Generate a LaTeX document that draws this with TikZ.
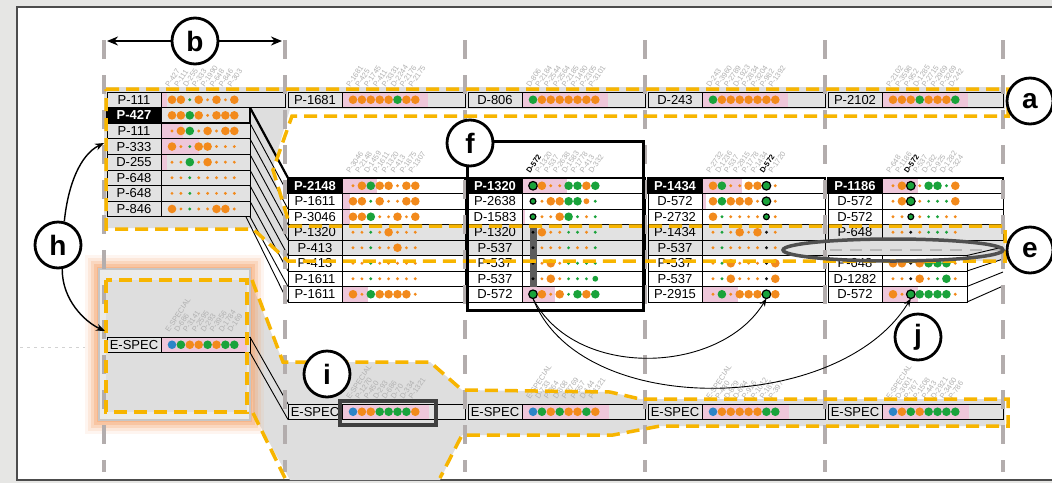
\documentclass[tikz,border=0pt]{standalone}
\usepackage{fontspec}
\setmainfont{Liberation Sans}
\usetikzlibrary{arrows.meta}
\definecolor{pagegray}{HTML}{E6E6E4}
\definecolor{regray}{HTML}{DEDEDE}
\definecolor{rowgray}{HTML}{E2E2E2}
\definecolor{pinkc}{HTML}{EEC7DA}
\definecolor{yelc}{HTML}{F7B500}
\definecolor{vgray}{HTML}{B3ADAD}
\definecolor{dco}{HTML}{F28A1C}
\definecolor{dcg}{HTML}{1AA33B}
\definecolor{dcb}{HTML}{2C85C7}
\definecolor{dck}{HTML}{111111}
\definecolor{dcr}{HTML}{1AA33B}
\definecolor{fangray}{HTML}{B0B0B0}
\definecolor{darkbox}{HTML}{3F3F3F}
\definecolor{glowc}{HTML}{F6A56E}
\definecolor{ellc}{HTML}{505050}
\newcount\rowid
\newcount\fanid
\newcommand{\prow}[9]{%
  \fill[#4] (#1+3,#2) rectangle (#1+#6,#2+15.5);
  \fill[pinkc] (#1+57,#2) rectangle (#1+57+#5,#2+15.5);
  \draw[line width=#9] (#1+3,#2) rectangle (#1+#6,#2+15.5);
  \global\advance\rowid by 1
  \node[lab,fill=#4,#7] (row\the\rowid) at (#1+30,#2+7.75) {#3};
  \foreach \dc/\dz [count=\dk from 0] in {#8} {%
    \edef\dfill{dc\dc}\edef\dd{\if r\dc black\else none\fi}\edef\rr{\ifcase\dz\or1.6\or2.9\or4.3\fi}%
    \path[fill=\dfill,draw=\dd,line width=1.2pt] (#1+68+8.9*\dk,#2+7.75) circle[radius=\rr];}%
}
\newcommand{\fan}[3]{%
  \foreach \ft [count=\fk from 0] in {#3} {\global\advance\fanid by 1\relax
    \node[fanlab] (fan\the\fanid) at (#1+65+8.9*\fk,#2-4) {\ft};}%
}
\begin{document}
\begin{tikzpicture}[x=1pt,y=-1pt,
  lab/.style={draw,line width=0.8pt,minimum width=54pt,minimum height=15.5pt,inner sep=0pt,font=\fontsize{13}{13}\selectfont},
  labb/.style={fill=black,text=white,font=\fontsize{13}{13}\selectfont\bfseries},
  fanlab/.style={rotate=56,anchor=base west,inner sep=0pt,text=fangray,font=\fontsize{7.5}{7.5}\selectfont},
  letter/.style={circle,draw,line width=2.8pt,fill=white,minimum size=46pt,inner sep=0pt,font=\fontsize{28}{28}\selectfont\bfseries},
  yd/.style={draw=yelc,line width=3.5pt,dash pattern=on 13pt off 7pt},
  vd/.style={draw=vgray,line width=3.5pt,dash pattern=on 19pt off 16pt},
  conn/.style={line width=0.9pt}]
\useasboundingbox (0,0) rectangle (1052,483);
\fill[pagegray] (0,0) rectangle (1052,483);
\fill[white] (17,7) rectangle (1052,480);
\draw[gray!60!black,line width=1.2pt] (1053,7) -- (17,7) -- (17,480) -- (1053,480);
% gray regions
\fill[regray] (104,87) -- (1005,87) -- (1005,109) -- (290,109) -- (272,170) -- (288,225) -- (1005,225) -- (1005,261) -- (288,261) -- (253,228) -- (104,228) -- cycle;
\fill[regray] (250,280) -- (283,362) -- (430,362) -- (462,390) -- (610,392) -- (640,399) -- (1005,399) -- (1005,426) -- (660,426) -- (613,435) -- (462,435) -- (440,480) -- (290,480) -- (253,413) -- cycle;
\foreach \d/\op in {12/0.1,9/0.16,6/0.25,3/0.35,0/0.45} \fill[glowc,opacity=\op] (97-\d,267-\d) rectangle (252+\d,422+\d);
\filldraw[fill=rowgray!70!white,draw=gray!45,line width=1.2pt] (99,269) rectangle (250,420);
\fill[regray] (106,280) rectangle (247,412);
\draw[gray!35,line width=1pt,dash pattern=on 3pt off 4pt] (20,347) -- (85,347);
% band a
\prow{104}{92}{P-111}{rowgray}{6}{181}{}{o/3,o/3,g/1,o/3,o/1,o/3,o/1,o/3}{0.8pt}
\prow{285}{92}{P-1681}{rowgray}{86}{180}{}{o/3,o/3,o/3,o/3,o/3,g/3,o/3,o/3}{0.8pt}
\prow{465}{92}{D-806}{rowgray}{86}{180}{}{g/3,o/3,o/3,o/3,o/3,o/3,o/3,o/3}{0.8pt}
\prow{645}{92}{D-243}{rowgray}{86}{180}{}{g/3,o/3,o/3,o/3,o/3,o/3,o/3,o/3}{0.8pt}
\prow{825}{92}{P-2102}{rowgray}{86}{178}{}{o/3,o/3,o/3,g/3,o/3,o/3,o/3,g/3}{0.8pt}
% column 1
\prow{104}{201.2}{P-846}{rowgray}{0}{146}{}{o/3,o/1,g/1,o/1,o/1,o/3,o/3,o/1}{0.8pt}
\prow{104}{185.6}{P-648}{rowgray}{0}{146}{}{o/1,o/1,g/1,o/1,o/1,o/1,o/1,o/1}{0.8pt}
\prow{104}{170}{P-648}{rowgray}{0}{146}{}{o/1,o/1,g/1,o/1,o/1,o/1,o/1,o/1}{0.8pt}
\prow{104}{154.4}{D-255}{rowgray}{6}{146}{}{o/1,o/1,g/3,o/1,o/3,o/1,o/1,o/1}{0.8pt}
\prow{104}{138.8}{P-333}{rowgray}{38}{146}{}{o/3,o/1,g/1,o/3,o/3,o/1,o/1,o/1}{0.8pt}
\prow{104}{123.2}{P-111}{rowgray}{22}{146}{}{o/1,o/3,g/3,o/1,o/3,o/1,o/3,o/3}{0.8pt}
\prow{104}{107.6}{P-427}{rowgray}{0}{146}{labb}{o/3,o/3,g/3,o/3,o/1,o/3,o/3,o/3}{1.4pt}
% column 2 group
\prow{285}{286.5}{P-1611}{white}{26}{180}{}{o/3,o/1,g/3,o/3,o/3,o/3,o/3,o/1}{0.8pt}
\prow{285}{271}{P-1611}{white}{0}{180}{}{o/1,o/1,g/1,o/1,o/1,o/1,o/1,o/1}{0.8pt}
\prow{285}{255.5}{P-413}{white}{0}{180}{}{o/1,o/1,g/1,o/1,o/1,o/1,o/1,o/1}{0.8pt}
\prow{285}{240}{P-413}{rowgray}{0}{180}{}{o/1,o/1,g/1,o/1,o/1,o/3,o/1,o/1}{0.8pt}
\prow{285}{224.5}{P-1320}{rowgray}{0}{180}{}{o/1,o/1,g/1,o/1,o/3,o/1,o/1,o/1}{0.8pt}
\prow{285}{209}{P-3046}{white}{8}{180}{}{o/3,o/3,g/3,o/1,o/1,o/3,o/1,o/3}{0.8pt}
\prow{285}{193.5}{P-1611}{white}{8}{180}{}{o/3,o/3,g/1,o/3,o/1,o/1,o/3,o/3}{0.8pt}
\prow{285}{178}{P-2148}{white}{35}{180}{labb}{o/1,o/3,g/3,o/3,o/3,o/1,o/3,o/3}{1.8pt}
% column 3 group
\prow{465}{286.5}{D-572}{white}{33}{180}{}{r/3,o/3,o/1,o/3,g/1,g/3,o/3,g/3}{0.8pt}
\prow{465}{271}{P-537}{white}{0}{180}{}{k/1,o/1,o/3,o/1,g/1,g/1,g/1,g/2}{0.8pt}
\prow{465}{255.5}{P-537}{white}{0}{180}{}{k/1,o/1,o/3,o/1,g/1,g/1,g/1,g/1}{0.8pt}
\prow{465}{240}{P-537}{rowgray}{0}{180}{}{k/1,o/1,o/1,o/1,g/1,o/1,o/1,g/1}{0.8pt}
\prow{465}{224.5}{P-1320}{rowgray}{0}{180}{}{k/1,o/3,o/1,o/1,g/1,g/1,o/1,g/1}{0.8pt}
\prow{465}{209}{D-1583}{white}{3}{180}{}{r/2,o/1,o/1,o/3,g/3,g/1,o/1,g/1}{0.8pt}
\prow{465}{193.5}{P-2638}{white}{0}{180}{}{r/2,o/1,o/3,o/3,g/3,g/3,o/2,g/1}{0.8pt}
\prow{465}{178}{P-1320}{white}{45}{180}{labb}{r/3,o/3,o/1,o/1,g/3,g/3,o/3,g/3}{1.8pt}
\fill[darkbox!85] (529.5,224.5) rectangle (536.5,286.5);
\foreach \yy in {232.25,247.75,263.25,278.75} \fill[black] (533,\yy) circle[radius=1.6];
% column 4 group
\prow{645}{286.5}{P-2915}{white}{36}{180}{}{o/1,g/3,o/1,o/3,o/3,o/3,r/3,o/3}{0.8pt}
\prow{645}{271}{P-537}{white}{0}{180}{}{o/1,g/1,o/3,o/1,o/1,o/1,k/1,o/3}{0.8pt}
\prow{645}{255.5}{P-537}{white}{0}{180}{}{o/1,g/1,o/3,o/1,o/1,o/1,k/1,o/3}{0.8pt}
\prow{645}{240}{P-537}{rowgray}{0}{180}{}{o/1,g/1,o/1,o/1,o/1,o/1,k/1,o/1}{0.8pt}
\prow{645}{224.5}{P-1434}{rowgray}{0}{180}{}{o/1,g/1,o/1,o/3,o/1,o/3,k/1,o/1}{0.8pt}
\prow{645}{209}{P-2732}{white}{0}{180}{}{o/3,g/1,o/1,o/1,o/1,o/1,r/2,o/1}{0.8pt}
\prow{645}{193.5}{D-572}{white}{4}{180}{}{o/3,g/3,o/3,o/3,o/3,o/1,r/3,o/1}{0.8pt}
\prow{645}{178}{P-1434}{white}{40}{180}{labb}{o/3,g/3,o/1,o/1,o/3,o/3,r/3,o/1}{1.8pt}
% column 5 group
\prow{825}{286.5}{D-572}{white}{36}{142}{}{o/3,o/1,r/3,g/3,g/3,g/3,g/3,o/1}{0.8pt}
\prow{825}{271}{D-1282}{white}{0}{142}{}{o/1,o/1,k/1,o/3,o/1,g/1,g/3,o/1}{0.8pt}
\prow{825}{255.5}{P-648}{white}{0}{142}{}{o/3,o/3,k/1,o/3,g/3,g/3,g/3,o/1}{0.8pt}
\prow{825}{224.5}{P-648}{rowgray}{0}{178}{}{o/1,o/1,k/1,o/1,g/1,g/1,g/1,o/1}{0.8pt}
\prow{825}{209}{D-572}{white}{0}{178}{}{o/1,o/1,r/2,o/1,g/1,g/1,o/1,o/1}{0.8pt}
\prow{825}{193.5}{D-572}{white}{0}{178}{}{o/1,o/3,r/3,o/1,g/1,g/1,g/1,o/3}{0.8pt}
\prow{825}{178}{P-1186}{white}{36}{178}{labb}{o/1,o/3,r/3,o/1,g/3,g/3,g/1,o/3}{1.8pt}
\draw[gray!55,line width=2pt,dash pattern=on 12pt off 8pt] (830,250) -- (1000,250);
% E-SPEC rows
\prow{104}{337}{E-SPEC}{rowgray}{86}{146}{}{b/3,g/3,o/3,o/3,g/3,o/3,g/3,g/3}{0.8pt}
\prow{285}{404}{E-SPEC}{rowgray}{87}{180}{}{b/3,o/3,o/3,g/3,g/3,g/3,g/3,o/3}{0.8pt}
\prow{465}{404}{E-SPEC}{rowgray}{87}{180}{}{b/3,g/3,o/3,g/3,o/3,o/3,g/3,o/3}{0.8pt}
\prow{645}{404}{E-SPEC}{rowgray}{87}{180}{}{b/3,o/3,o/3,o/3,o/3,o/3,g/3,g/3}{0.8pt}
\prow{825}{404}{E-SPEC}{rowgray}{87}{178}{}{b/3,o/3,g/3,o/3,g/3,g/3,g/3,g/3}{0.8pt}
% fans
\fan{104}{92}{P-427,P-111,D-255,P-333,P-1990,P-648,P-846,P-303}
\fan{285}{92}{P-1681,P-425,P-1745,P-411,P-3331,D-2244,P-2176,P-2175}
\fan{465}{92}{D-806,P-2184,P-2544,P-2564,P-2185,P-1490,P-2305,P-3101}
\fan{645}{92}{D-243,P-3960,P-2789,D-1923,P-2834,P-3204,P-982,P-1392}
\fan{825}{92}{P-2102,P-3598,P-952,D-1285,P-2715,P-2969,P-3269,D-242}
\fan{285}{178}{P-3046,P-2148,D-1459,P-1611,P-1320,P-413,P-1875,P-1307}
\fan{465}{178}{{\color{black}\bfseries D-572},P-1320,P-537,P-2638,D-1583,P-1778,P-413,D-332}
\fan{645}{178}{P-2732,D-1236,P-537,P-2915,P-1778,P-1434,{\color{black}\bfseries D-572},P-1720}
\fan{825}{178}{P-648,P-1186,{\color{black}\bfseries D-572},P-537,D-282,D-925,D-1282,P-324}
\fan{104}{337}{E-SPECIAL,D-686,P-3141,P-2595,D-293,P-3956,D-1784,D-169}
\fan{285}{404}{E-SPECIAL,P-1270,P-450,D-293,D-686,D-70,D-334,P-1321}
\fan{465}{404}{E-SPECIAL,D-733,P-264,D-808,P-2769,P-557,D-144,P-1321}
\fan{645}{404}{E-SPECIAL,P-430,D-829,D-684,P-916,P-1012,P-187,P-397}
\fan{825}{404}{E-SPECIAL,D-3001,P-767,P-1508,P-443,D-2921,P-3460,P-786}
% connectors column 1 -> column 2
\foreach \k in {0,...,7} {\coordinate (ca\k) at (250,107.6+15.6*\k); \coordinate (cb\k) at (288,178+15.5*\k); \draw[conn] (ca\k) -- (cb\k);}
\coordinate (ca8) at (246,216.8); \coordinate (cb8) at (288,302);
\draw[conn] (ca8) -- (cb8);
\draw[line width=2.2pt] (ca0) -- (cb0);
\coordinate (ea1) at (250,337); \coordinate (ea2) at (250,352.5);
\coordinate (eb1) at (288,404); \coordinate (eb2) at (288,419.5);
\draw[conn] (ea1) -- (eb1); \draw[conn] (ea2) -- (eb2);
\foreach \k/\ya/\yb in {0/255.5/247,1/271/259,2/286.5/272,3/302/286} {\coordinate (xa\k) at (967,\ya); \coordinate (xb\k) at (1003,\yb); \draw[conn] (xa\k) -- (xb\k);}
% vertical dashed guides
\foreach \vx in {104,285,465,645,825,1003} \draw[vd] (\vx,40) -- (\vx,472);
% yellow outlines
\draw[yd] (106,89) -- (1008,89) -- (1008,116) -- (292,116) -- (273,170) -- (290,226) -- (1005,226) -- (1005,261) -- (288,261) -- (253,229) -- (106,229) -- cycle;
\draw[yd] (106,280) rectangle (247,412);
\draw[yd] (252,280) -- (283,362) -- (430,362) -- (462,390) -- (610,392) -- (640,399) -- (1008,399) -- (1008,426) -- (660,426) -- (613,435) -- (462,435) -- (440,478);
\draw[yd] (253,413) -- (285,478);
% highlights
\draw[line width=3pt] (467,141) rectangle (643,310);
\draw[darkbox,line width=3.5pt] (340,401) rectangle (436,425);
\draw[ellc,line width=3.5pt] (893,250) ellipse[x radius=110,y radius=11];
% curved arrows
\coordinate (s3) at (533,298.5);
\coordinate (t4) at (766.4,298.5);
\coordinate (t5) at (910.8,298.5);
\draw[line width=0.9pt,-{Stealth[length=8pt,width=6pt]}] (s3) .. controls (575,380) and (720,375) .. (t4);
\draw[line width=0.9pt,-{Stealth[length=8pt,width=6pt]}] (s3) .. controls (580,420) and (840,415) .. (t5);
% letters
\node[letter] (a) at (1030,101) {a};
\node[letter] (b) at (195,41) {b};
\node[letter] (e) at (1030,250) {e};
\node[letter] (f) at (470,143) {f};
\node[letter] (h) at (58,245) {h};
\node[letter] (i) at (327,374) {i};
\node[letter] (j) at (918,337) {j};
\coordinate (bl) at (107,41); \coordinate (br) at (282,41);
\draw[line width=2pt,-{Stealth[length=11pt,width=9pt]}] (b) -- (bl);
\draw[line width=2pt,-{Stealth[length=11pt,width=9pt]}] (b) -- (br);
\coordinate (hA) at (104,143); \coordinate (hB) at (105,331);
\draw[line width=1.4pt,-{Stealth[length=9pt,width=7pt]}] (h.75) .. controls (68,185) and (80,155) .. (hA);
\draw[line width=1.4pt,-{Stealth[length=9pt,width=7pt]}] (h.-80) .. controls (62,300) and (85,322) .. (hB);
\end{tikzpicture}
\end{document}
